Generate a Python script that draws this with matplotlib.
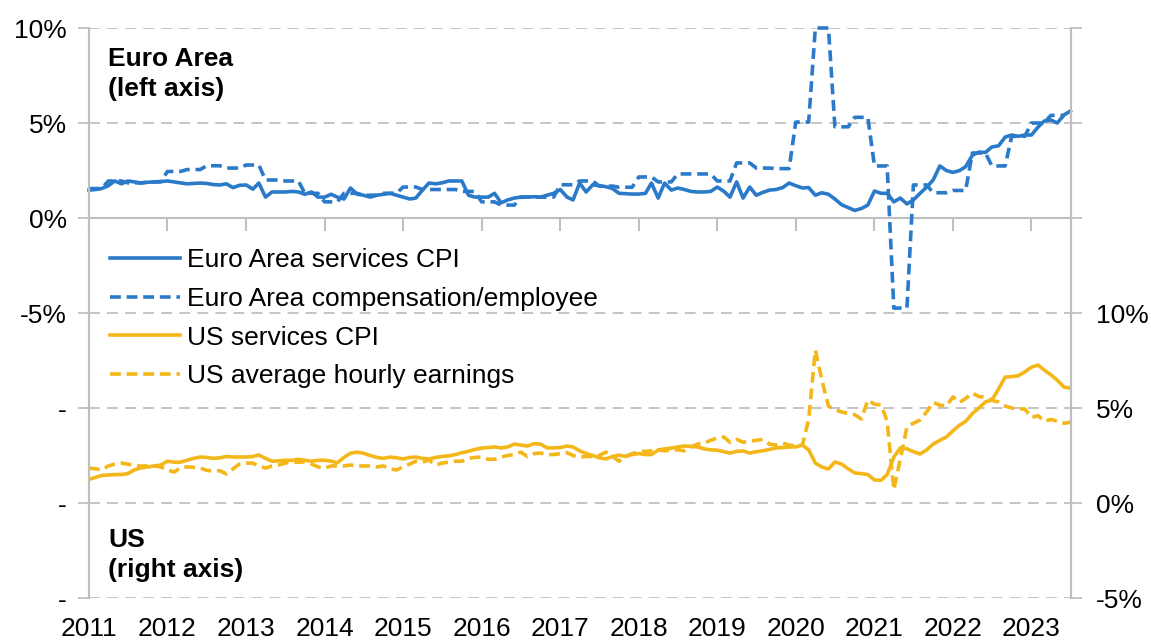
import numpy as np
import pandas as pd
import matplotlib
matplotlib.use("Agg")
import matplotlib.pyplot as plt

plt.rcParams['font.family'] = ['Liberation Sans', 'DejaVu Sans']

# monthly, Jan 2011 - Jul 2023
months = pd.date_range('2011-01-01', '2023-07-01', freq='MS')

ea_services_cpi = [
    1.47, 1.50, 1.55, 1.70, 1.95, 1.80, 1.95, 1.90, 1.84, 1.88, 1.90, 1.92,
    1.95, 1.90, 1.85, 1.80, 1.82, 1.84, 1.82, 1.76, 1.74, 1.80, 1.60, 1.72,
    1.74, 1.52, 1.84, 1.10, 1.37, 1.37, 1.37, 1.40, 1.37, 1.25, 1.37, 1.10,
    1.10, 1.25, 1.10, 1.00, 1.58, 1.25, 1.20, 1.10, 1.20, 1.25, 1.30, 1.20,
    1.10, 1.00, 1.05, 1.47, 1.84, 1.80, 1.85, 1.95, 1.95, 1.95, 1.20, 1.10,
    1.10, 1.10, 1.30, 0.80, 0.95, 1.05, 1.10, 1.10, 1.12, 1.10, 1.20, 1.30,
    1.50, 1.10, 0.95, 1.84, 1.37, 1.75, 1.70, 1.65, 1.55, 1.30, 1.28, 1.26,
    1.26, 1.30, 1.84, 1.05, 1.84, 1.47, 1.58, 1.50, 1.40, 1.37, 1.37, 1.40,
    1.63, 1.40, 1.10, 1.90, 1.05, 1.63, 1.20, 1.35, 1.47, 1.50, 1.60, 1.84,
    1.70, 1.58, 1.60, 1.20, 1.33, 1.25, 1.00, 0.70, 0.55, 0.40, 0.50, 0.68,
    1.42, 1.30, 1.30, 0.85, 1.05, 0.74, 0.95, 1.30, 1.63, 2.00, 2.74, 2.50,
    2.40, 2.50, 2.70, 3.30, 3.47, 3.45, 3.74, 3.80, 4.26, 4.37, 4.30, 4.37,
    4.37, 4.79, 5.10, 5.16, 5.00, 5.42, 5.63,
]

# quarterly, 2011Q1 - 2023Q2
ea_comp_quarterly = [
    1.55, 1.95, 1.85, 1.90,
    2.45, 2.55, 2.75, 2.63,
    2.79, 2.00, 1.95, 1.30,
    0.85, 1.30, 1.20, 1.30,
    1.63, 1.50, 1.50, 1.40,
    0.85, 0.68, 1.10, 1.10,
    1.75, 1.95, 1.68, 1.62,
    2.16, 1.90, 2.32, 2.32,
    1.95, 2.90, 2.63, 2.60,
    5.05, 10.0, 4.80, 5.30,
    2.74, -4.74, 1.74, 1.33,
    1.45, 3.42, 2.74, 4.30,
    5.00, 5.40,
]

us_services_cpi = [
    1.25, 1.35, 1.45, 1.47, 1.50, 1.50, 1.55, 1.75, 1.85, 1.90, 1.95, 2.00,
    2.20, 2.15, 2.15, 2.25, 2.35, 2.42, 2.40, 2.35, 2.38, 2.45, 2.42, 2.42,
    2.42, 2.45, 2.53, 2.35, 2.20, 2.22, 2.25, 2.25, 2.30, 2.25, 2.20, 2.25,
    2.25, 2.20, 2.12, 2.40, 2.62, 2.68, 2.62, 2.50, 2.40, 2.35, 2.42, 2.38,
    2.32, 2.40, 2.42, 2.35, 2.32, 2.40, 2.45, 2.48, 2.55, 2.65, 2.72, 2.82,
    2.89, 2.92, 2.95, 2.90, 2.95, 3.10, 3.05, 3.00, 3.12, 3.10, 2.90, 2.90,
    2.92, 3.00, 2.95, 2.75, 2.60, 2.50, 2.38, 2.32, 2.45, 2.52, 2.45, 2.55,
    2.60, 2.55, 2.55, 2.79, 2.85, 2.89, 2.95, 3.00, 2.98, 2.95, 2.85, 2.80,
    2.78, 2.70, 2.63, 2.72, 2.74, 2.63, 2.70, 2.75, 2.82, 2.90, 2.92, 2.95,
    2.95, 3.05, 2.80, 2.10, 1.90, 1.79, 2.16, 2.05, 1.80, 1.58, 1.55, 1.50,
    1.21, 1.20, 1.50, 2.42, 2.90, 2.85, 2.70, 2.58, 2.80, 3.10, 3.30, 3.47,
    3.80, 4.10, 4.30, 4.70, 5.00, 5.32, 5.42, 6.00, 6.63, 6.65, 6.70, 6.90,
    7.15, 7.26, 7.00, 6.75, 6.47, 6.10, 6.05,
]

us_hourly_earnings = [
    1.84, 1.80, 1.74, 1.95, 2.05, 2.10, 2.05, 1.95, 1.95, 1.95, 1.95, 1.90,
    1.74, 1.63, 1.85, 1.90, 1.88, 1.85, 1.72, 1.68, 1.70, 1.53, 1.80, 2.05,
    2.10, 2.10, 1.95, 1.84, 1.95, 2.00, 2.10, 2.16, 2.15, 2.16, 2.05, 1.90,
    1.84, 1.95, 1.95, 1.95, 2.00, 1.95, 1.95, 1.95, 1.90, 1.95, 1.80, 1.74,
    1.90, 2.05, 2.20, 2.15, 2.26, 2.00, 2.10, 2.15, 2.20, 2.20, 2.35, 2.40,
    2.42, 2.30, 2.30, 2.42, 2.50, 2.55, 2.68, 2.45, 2.60, 2.63, 2.55, 2.55,
    2.60, 2.65, 2.50, 2.42, 2.45, 2.45, 2.50, 2.68, 2.45, 2.20, 2.45, 2.60,
    2.70, 2.72, 2.75, 2.79, 2.75, 2.79, 2.80, 2.75, 2.95, 3.10, 3.15, 3.30,
    3.42, 3.47, 3.20, 3.35, 3.20, 3.25, 3.30, 3.35, 3.10, 3.05, 3.15, 3.05,
    3.00, 3.05, 4.40, 8.05, 6.50, 5.10, 4.90, 4.80, 4.70, 4.65, 4.42, 5.42,
    5.20, 5.16, 4.30, 0.70, 2.30, 4.00, 4.20, 4.37, 4.80, 5.30, 5.15, 5.10,
    5.58, 5.30, 5.50, 5.79, 5.60, 5.58, 5.40, 5.32, 5.10, 5.00, 4.95, 4.95,
    4.50, 4.60, 4.30, 4.40, 4.30, 4.20, 4.25,
]

left_ticks = [-20, -15, -10, -5, 0, 5, 10]
left_labels = ['-', '-', '-', '-5%', '0%', '5%', '10%']
right_ticks = [-5, 0, 5, 10, 15, 20, 25]
right_labels = ['-5%', '0%', '5%', '10%', '', '', '']
years = list(range(2011, 2024))

BLUE = '#2A7AC9'
GOLD = '#F4B71A'
GRID = '#BFBFBF'
FS = 19

ea_comp = np.repeat(ea_comp_quarterly, 3)
comp_months = months[:len(ea_comp)]
year_dates = pd.to_datetime([f'{y}-01-01' for y in years])

fig = plt.figure(figsize=(11.51, 6.44), dpi=100)
ax = fig.add_axes([0.0773, 0.0714, 0.8532, 0.8851])
ax2 = ax.twinx()

ax.set_xlim(pd.Timestamp('2011-01-01'), pd.Timestamp('2023-07-04'))
ax.set_ylim(-20, 10)
ax2.set_ylim(-5, 25)

# grid + zero line
ax.set_yticks(left_ticks)
ax.set_yticklabels(left_labels)
ax.yaxis.grid(True, color=GRID, lw=1.3, linestyle=(0, (6, 4)))
ax.set_axisbelow(True)
ax.axhline(0, color=GRID, lw=1.5, zorder=1)
ax.plot(year_dates, np.zeros(len(years)), ls='none', marker=3, ms=9,
        mew=1.5, color=GRID, clip_on=False, zorder=1)

ax.set_xticks(year_dates)
ax.set_xticklabels([str(y) for y in years])
ax.tick_params(axis='x', length=0, pad=14, labelsize=FS)
ax.tick_params(axis='y', length=8, width=1.3, color=GRID, labelsize=FS, pad=8)

ax2.set_yticks(right_ticks)
ax2.set_yticklabels(right_labels)
ax2.tick_params(axis='y', length=8, width=1.3, color=GRID, labelsize=FS, pad=10)

for a in (ax, ax2):
    for s in ('top', 'bottom'):
        a.spines[s].set_visible(False)
    for s in ('left', 'right'):
        a.spines[s].set_color(GRID)
        a.spines[s].set_linewidth(1.5)

lw = 2.6
dash = (3.0, 1.6)
l1, = ax.plot(months, ea_services_cpi, color=BLUE, lw=lw, clip_on=False,
              label='Euro Area services CPI')
l2, = ax.plot(comp_months, ea_comp, color=BLUE, lw=lw, dashes=dash, clip_on=False,
              label='Euro Area compensation/employee')
l3, = ax2.plot(months, us_services_cpi, color=GOLD, lw=lw,
               label='US services CPI')
l4, = ax2.plot(months, us_hourly_earnings, color=GOLD, lw=lw, dashes=dash,
               label='US average hourly earnings')

ax2.legend(handles=[l1, l2, l3, l4], loc='upper left',
           bbox_to_anchor=(0.0214, 0.614), frameon=False, fontsize=FS,
           handlelength=2.65, handletextpad=0.27, labelspacing=0.56,
           borderpad=0, borderaxespad=0)

ax.text(0.0195, 0.967, 'Euro Area\n(left axis)', transform=ax.transAxes,
        ha='left', va='top', fontsize=FS, fontweight='bold', linespacing=1.35)
ax.text(0.0195, 0.123, 'US\n(right axis)', transform=ax.transAxes,
        ha='left', va='top', fontsize=FS, fontweight='bold', linespacing=1.3)

fig.savefig('out.png', dpi=100)
